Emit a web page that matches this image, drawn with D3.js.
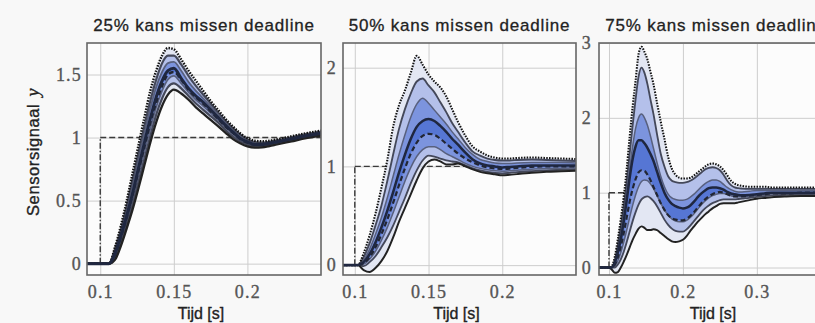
<!DOCTYPE html>
<html><head><meta charset="utf-8">
<script src="https://cdn.jsdelivr.net/npm/d3@7"></script>
<style>
html,body{margin:0;padding:0;background:#f8f8f8;}
svg{display:block;}
</style></head><body>
<svg id="chart" width="815" height="323"></svg>
<script>
// ---------- DATA ----------
const titles = ["25% kans missen deadline", "50% kans missen deadline", "75% kans missen deadline"];
const xLabel = "Tijd [s]";
const yLabel = "Sensorsignaal";
const yLabelSym = "y";
const stepTime = 0.1;
const stepLevel = 1;

const xTicks1 = [0.1, 0.15, 0.2];
const yTicks1 = [0, 0.5, 1, 1.5];
const xTicks2 = [0.1, 0.15, 0.2];
const yTicks2 = [0, 1, 2];
const xTicks3 = [0.1, 0.2, 0.3];
const yTicks3 = [0, 1, 2, 3];

// Panel 1 (25%)
const t1    = [0.09,0.106,0.11,0.114,0.118,0.122,0.126,0.13,0.134,0.138,0.142,0.146,0.15,0.155,0.16,0.165,0.17,0.175,0.18,0.185,0.19,0.195,0.2,0.205,0.21,0.215,0.22,0.23,0.24,0.25];
const hi1   = [0,0,0.13,0.30,0.50,0.72,0.94,1.16,1.37,1.53,1.65,1.71,1.70,1.62,1.53,1.45,1.37,1.29,1.22,1.15,1.09,1.035,0.995,0.975,0.97,0.975,0.985,1.01,1.035,1.055];
const p90_1 = [0,0,0.115,0.27,0.46,0.67,0.88,1.09,1.29,1.46,1.59,1.65,1.65,1.58,1.49,1.41,1.34,1.27,1.20,1.135,1.075,1.025,0.985,0.965,0.96,0.967,0.978,1.003,1.028,1.048];
const p75_1 = [0,0,0.10,0.245,0.42,0.62,0.83,1.03,1.23,1.40,1.52,1.59,1.60,1.53,1.44,1.37,1.31,1.245,1.18,1.12,1.06,1.01,0.975,0.955,0.952,0.96,0.971,0.996,1.021,1.041];
const med1  = [0,0,0.08,0.22,0.38,0.56,0.76,0.96,1.15,1.32,1.45,1.53,1.55,1.47,1.39,1.33,1.28,1.22,1.16,1.10,1.045,0.995,0.965,0.945,0.945,0.955,0.965,0.99,1.015,1.035];
const mean1 = [0,0,0.07,0.21,0.37,0.55,0.74,0.93,1.12,1.28,1.41,1.50,1.52,1.46,1.38,1.32,1.27,1.21,1.15,1.09,1.04,0.99,0.96,0.944,0.944,0.953,0.964,0.989,1.014,1.034];
const p25_1 = [0,0,0.06,0.19,0.34,0.51,0.70,0.89,1.07,1.24,1.37,1.46,1.49,1.43,1.36,1.30,1.25,1.195,1.14,1.08,1.03,0.985,0.955,0.94,0.94,0.948,0.96,0.984,1.009,1.029];
const p10_1 = [0,0,0.045,0.165,0.31,0.47,0.65,0.83,1.01,1.18,1.31,1.40,1.43,1.39,1.33,1.27,1.22,1.17,1.12,1.06,1.01,0.97,0.945,0.93,0.932,0.94,0.953,0.978,1.003,1.023];
const lo1   = [0,0,0.03,0.14,0.28,0.43,0.60,0.78,0.96,1.12,1.25,1.34,1.38,1.35,1.30,1.24,1.19,1.14,1.09,1.04,0.99,0.955,0.93,0.92,0.922,0.932,0.945,0.97,0.995,1.015];

// Panel 2 (50%)
const t2    = [0.092,0.102,0.106,0.11,0.114,0.118,0.122,0.126,0.13,0.134,0.138,0.142,0.146,0.15,0.154,0.158,0.162,0.166,0.17,0.175,0.18,0.185,0.19,0.195,0.2,0.205,0.21,0.22,0.23,0.24,0.25];
const hi2   = [0,0,0.12,0.30,0.52,0.78,1.06,1.40,1.62,1.77,1.95,2.12,2.03,1.93,1.86,1.80,1.71,1.58,1.45,1.31,1.20,1.15,1.11,1.09,1.08,1.08,1.085,1.09,1.085,1.08,1.075];
const p90_2 = [0,0,0.08,0.22,0.40,0.60,0.85,1.12,1.38,1.58,1.74,1.86,1.89,1.82,1.75,1.65,1.55,1.44,1.35,1.24,1.15,1.11,1.08,1.065,1.06,1.06,1.065,1.07,1.065,1.06,1.055];
const p75_2 = [0,0,0.05,0.16,0.31,0.48,0.68,0.90,1.12,1.32,1.50,1.63,1.69,1.64,1.57,1.50,1.43,1.35,1.28,1.19,1.12,1.07,1.05,1.035,1.03,1.03,1.035,1.04,1.04,1.04,1.035];
const med2  = [0,0,0.03,0.11,0.23,0.38,0.55,0.74,0.94,1.12,1.28,1.40,1.46,1.48,1.46,1.41,1.35,1.28,1.22,1.14,1.07,1.03,1.01,1.0,0.99,0.995,1.0,1.01,1.01,1.01,1.01];
const mean2 = [0,0,0.02,0.08,0.18,0.31,0.46,0.63,0.81,0.98,1.13,1.24,1.31,1.33,1.32,1.28,1.23,1.18,1.13,1.08,1.04,1.01,0.99,0.98,0.975,0.978,0.985,0.995,1.0,1.0,1.0];
const p25_2 = [0,0,0.01,0.06,0.14,0.25,0.38,0.53,0.69,0.85,0.99,1.10,1.17,1.20,1.20,1.17,1.13,1.10,1.07,1.03,1.0,0.98,0.965,0.955,0.95,0.955,0.962,0.972,0.978,0.982,0.985];
const p10_2 = [0,0,-0.01,0.03,0.09,0.18,0.28,0.40,0.54,0.68,0.83,0.96,1.06,1.11,1.10,1.08,1.06,1.05,1.04,1.01,0.98,0.96,0.945,0.935,0.93,0.935,0.942,0.952,0.96,0.965,0.97];
const lo2   = [0,0,-0.05,-0.07,-0.03,0.04,0.14,0.28,0.44,0.58,0.72,0.86,0.98,1.05,1.07,1.05,1.02,1.02,1.03,1.0,0.97,0.945,0.93,0.92,0.91,0.915,0.922,0.935,0.945,0.95,0.955];

// Panel 3 (75%)
const t3    = [0.086,0.1,0.104,0.108,0.112,0.116,0.12,0.124,0.128,0.132,0.136,0.14,0.144,0.148,0.152,0.156,0.16,0.165,0.17,0.175,0.18,0.185,0.19,0.195,0.2,0.205,0.21,0.215,0.22,0.225,0.23,0.235,0.24,0.245,0.25,0.255,0.26,0.265,0.27,0.275,0.28,0.29,0.3,0.31,0.32,0.34,0.36,0.38,0.4];
const hi3   = [0,0,0.02,0.15,0.38,0.65,0.95,1.32,1.75,2.15,2.50,2.85,2.95,2.88,2.78,2.62,2.46,2.20,1.95,1.72,1.48,1.32,1.24,1.20,1.19,1.19,1.20,1.23,1.27,1.31,1.35,1.38,1.39,1.38,1.35,1.30,1.23,1.16,1.12,1.10,1.09,1.08,1.08,1.08,1.07,1.07,1.07,1.07,1.07];
const p90_3 = [0,0,0.01,0.10,0.30,0.55,0.82,1.15,1.52,1.90,2.25,2.55,2.67,2.60,2.45,2.25,2.06,1.78,1.52,1.35,1.22,1.16,1.14,1.13,1.13,1.14,1.16,1.19,1.23,1.27,1.31,1.33,1.34,1.33,1.30,1.24,1.16,1.10,1.07,1.06,1.055,1.05,1.05,1.05,1.05,1.05,1.05,1.05,1.05];
const p75_3 = [0,0,0.005,0.08,0.24,0.46,0.71,1.00,1.32,1.62,1.86,2.00,2.05,2.00,1.90,1.76,1.60,1.40,1.22,1.08,0.98,0.93,0.91,0.90,0.90,0.91,0.94,0.98,1.03,1.08,1.12,1.15,1.17,1.17,1.15,1.11,1.07,1.04,1.02,1.01,1.01,1.02,1.03,1.03,1.03,1.03,1.03,1.03,1.03];
const med3  = [0,0,0,0.07,0.20,0.38,0.62,0.90,1.20,1.45,1.62,1.70,1.70,1.66,1.60,1.52,1.43,1.28,1.13,1.00,0.91,0.85,0.82,0.80,0.79,0.80,0.83,0.88,0.94,0.99,1.03,1.06,1.07,1.07,1.06,1.04,1.01,0.99,0.98,0.97,0.965,0.97,0.98,0.99,1.0,1.0,1.0,1.0,1.0];
const mean3 = [0,0,0,0.04,0.14,0.28,0.46,0.67,0.88,1.05,1.18,1.27,1.30,1.29,1.24,1.17,1.08,0.97,0.86,0.77,0.70,0.66,0.64,0.63,0.63,0.65,0.69,0.74,0.80,0.86,0.91,0.95,0.98,1.00,1.01,1.00,0.98,0.96,0.95,0.95,0.95,0.96,0.97,0.98,0.99,0.99,1.0,1.0,1.0];
const p25_3 = [0,0,0,0.02,0.09,0.20,0.34,0.50,0.67,0.83,0.97,1.08,1.15,1.17,1.16,1.12,1.06,0.96,0.86,0.77,0.70,0.65,0.62,0.61,0.61,0.63,0.67,0.72,0.78,0.84,0.89,0.93,0.96,0.98,0.99,0.99,0.98,0.96,0.95,0.945,0.945,0.955,0.965,0.975,0.985,0.99,0.99,0.99,0.99];
const p10_3 = [0,0,0,0,0.04,0.11,0.21,0.34,0.48,0.62,0.74,0.84,0.91,0.94,0.95,0.93,0.89,0.82,0.73,0.64,0.57,0.52,0.49,0.48,0.48,0.51,0.56,0.62,0.68,0.74,0.79,0.83,0.86,0.88,0.90,0.91,0.91,0.91,0.91,0.915,0.92,0.93,0.945,0.955,0.965,0.97,0.975,0.975,0.975];
const lo3   = [0,0,-0.03,-0.07,-0.06,0.0,0.08,0.17,0.27,0.37,0.45,0.52,0.55,0.53,0.50,0.50,0.51,0.50,0.46,0.42,0.38,0.35,0.34,0.35,0.37,0.42,0.49,0.55,0.61,0.66,0.71,0.75,0.79,0.82,0.85,0.86,0.86,0.86,0.86,0.87,0.88,0.90,0.92,0.93,0.94,0.95,0.955,0.955,0.955];

// ---------- LAYOUT ----------
const layout = [
  {left: 87,  width: 234, xd: [0.091, 0.25],   yd: [-0.09, 1.75], ypad: 5, lw: 1.35},
  {left: 343, width: 233, xd: [0.092, 0.25],   yd: [-0.10, 2.25], ypad: 6, lw: 1.15},
  {left: 599, width: 234, xd: [0.0865, 0.403], yd: [-0.10, 3.0],  ypad: 7, lw: 1.15}
];
const TOP = 43, H = 232;

const panels = [
  {t:t1, hi:hi1, p90:p90_1, p75:p75_1, med:med1, mean:mean1, p25:p25_1, p10:p10_1, lo:lo1, xt:xTicks1, yt:yTicks1},
  {t:t2, hi:hi2, p90:p90_2, p75:p75_2, med:med2, mean:mean2, p25:p25_2, p10:p10_2, lo:lo2, xt:xTicks2, yt:yTicks2},
  {t:t3, hi:hi3, p90:p90_3, p75:p75_3, med:med3, mean:mean3, p25:p25_3, p10:p10_3, lo:lo3, xt:xTicks3, yt:yTicks3}
];

const svg = d3.select("#chart");
const fmt = d3.format("~g");
const serif = "'Liberation Serif','Times New Roman',serif";
const sans = "'Liberation Sans',Arial,sans-serif";

panels.forEach((p, k) => {
  const L = layout[k];
  const W = L.width;
  const m = L.lw;
  const g = svg.append("g").attr("transform", `translate(${L.left},${TOP})`);
  const x = d3.scaleLinear().domain(L.xd).range([0, W]);
  const y = d3.scaleLinear().domain(L.yd).range([H, 0]);

  g.append("rect").attr("width", W).attr("height", H).attr("fill", "#fcfcfc");

  // grid
  const gxg = g.append("g").attr("transform", `translate(0,${H})`)
    .call(d3.axisBottom(x).tickValues(p.xt).tickSize(-H).tickFormat(""));
  const gyg = g.append("g")
    .call(d3.axisLeft(y).tickValues(p.yt).tickSize(-W).tickFormat(""));
  [gxg, gyg].forEach(a => {
    a.select(".domain").remove();
    a.selectAll("line").attr("stroke", "#cdcdcd").attr("stroke-width", 1);
  });

  const clipId = "clip" + k;
  g.append("clipPath").attr("id", clipId).append("rect").attr("width", W).attr("height", H);
  const c = g.append("g").attr("clip-path", `url(#${clipId})`);

  const idx = p.t.map((_, i) => i);
  const band = (a, b) => d3.area().curve(d3.curveMonotoneX)
    .x(i => x(p.t[i])).y0(i => y(a[i])).y1(i => y(b[i]));
  const line = a => d3.line().curve(d3.curveMonotoneX)
    .x(i => x(p.t[i])).y(i => y(a[i]));

  // reference step (under the fan)
  const ref = d3.line().x(d => x(d[0])).y(d => y(d[1]));
  c.append("path").attr("d", ref([[stepTime, 0], [stepTime, stepLevel]]))
    .attr("fill", "none").attr("stroke", "#3a3a3a").attr("stroke-width", 1.4).attr("stroke-dasharray", "6,2,1.5,2");
  c.append("path").attr("d", ref([[stepTime, stepLevel], [L.xd[1], stepLevel]]))
    .attr("fill", "none").attr("stroke", "#3a3a3a").attr("stroke-width", 1.4).attr("stroke-dasharray", "6,3");

  c.append("path").attr("d", band(p.lo, p.hi)(idx)).attr("fill", "#e0e4f2").attr("fill-opacity", 0.9);
  c.append("path").attr("d", band(p.p10, p.p90)(idx)).attr("fill", "#b4c0ea");
  c.append("path").attr("d", band(p.p25, p.p75)(idx)).attr("fill", "#7c94de");
  c.append("path").attr("d", band(p.mean, p.med)(idx)).attr("fill", "#5676d4");

  const stroke = (a, col, w, dash) => {
    const s = c.append("path").attr("d", line(a)(idx)).attr("fill", "none")
      .attr("stroke", col).attr("stroke-width", w * m).attr("stroke-linejoin", "round");
    if (dash) s.attr("stroke-dasharray", dash);
  };
  stroke(p.p25, "#58607e", 1.3);
  stroke(p.p75, "#58607e", 1.3);
  stroke(p.p10, "#44485a", 1.6);
  stroke(p.p90, "#44485a", 1.6);
  stroke(p.lo, "#222", 1.7);
  stroke(p.hi, "#111", 1.8, "1.5,1.3");
  stroke(p.mean, "#222633", 1.9, "5,3");
  stroke(p.med, "#1f2740", 2.2);

  // frame
  g.append("rect").attr("width", W).attr("height", H).attr("fill", "none")
    .attr("stroke", "#666").attr("stroke-width", 1.6);

  // tick labels
  const ax = g.append("g").attr("transform", `translate(0,${H})`)
    .call(d3.axisBottom(x).tickValues(p.xt).tickSize(0).tickPadding(10).tickFormat(fmt));
  const ay = g.append("g")
    .call(d3.axisLeft(y).tickValues(p.yt).tickSize(0).tickPadding(L.ypad).tickFormat(fmt));
  [ax, ay].forEach(a => {
    a.select(".domain").remove();
    a.selectAll("text").attr("font-family", serif).attr("font-size", 18)
      .attr("letter-spacing", "1.2px").attr("fill", "#555")
      .attr("stroke", "#555").attr("stroke-width", 0.35);
  });

  // title
  svg.append("text").attr("x", L.left + W / 2).attr("y", 31).attr("text-anchor", "middle")
    .attr("font-family", sans).attr("font-size", 17).attr("letter-spacing", "0.8px")
    .attr("fill", "#222").attr("stroke", "#222").attr("stroke-width", 0.3).text(titles[k]);
  // x label
  svg.append("text").attr("x", L.left + W / 2 - 3).attr("y", 319).attr("text-anchor", "middle")
    .attr("font-family", sans).attr("font-size", 16).attr("fill", "#222")
    .attr("stroke", "#222").attr("stroke-width", 0.35).text(xLabel);
});

// y label
const yl = svg.append("text").attr("transform", "translate(39,152) rotate(-90)")
  .attr("text-anchor", "middle").attr("font-family", sans).attr("font-size", 16.5)
  .attr("letter-spacing", "0.6px").attr("fill", "#222").attr("stroke", "#222").attr("stroke-width", 0.35);
yl.append("tspan").text(yLabel);
yl.append("tspan").attr("dx", 7).attr("font-family", serif).attr("font-style", "italic")
  .attr("font-size", 18).text(yLabelSym);
</script>
</body></html>
